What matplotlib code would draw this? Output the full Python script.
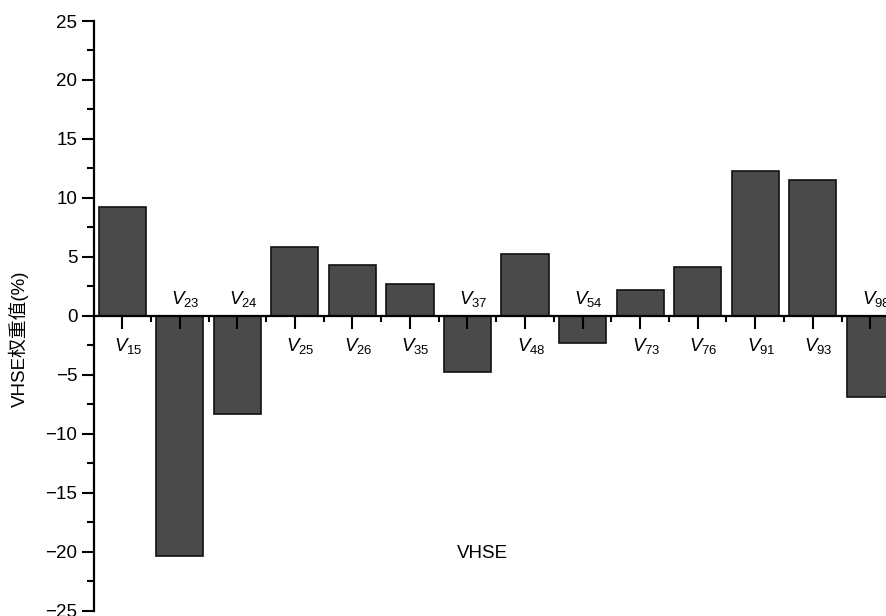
import matplotlib
matplotlib.use("Agg")
import matplotlib.pyplot as plt
from matplotlib.ticker import FixedLocator, MultipleLocator

plt.rcParams['font.family'] = ['Liberation Sans', 'Noto Sans CJK SC', 'DejaVu Sans']
plt.rcParams['mathtext.fontset'] = 'custom'
plt.rcParams['mathtext.rm'] = 'Liberation Sans'
plt.rcParams['mathtext.it'] = 'Liberation Sans:italic'

# VHSE descriptor weights (%)
descriptors = ['15', '23', '24', '25', '26', '35', '37', '48', '54', '73', '76', '91', '93', '98']
weights = [9.2, -20.4, -8.3, 5.8, 4.3, 2.7, -4.8, 5.2, -2.3, 2.2, 4.1, 12.3, 11.5, -6.9]
y_ticks = [-25, -20, -15, -10, -5, 0, 5, 10, 15, 20, 25]

fig = plt.figure(figsize=(8.87, 6.16), dpi=100)
ax = fig.add_axes([94 / 887, 5.5 / 616, 1 - 94 / 887, 589.5 / 616])

x = list(range(len(weights)))
ax.bar(x, weights, width=0.82, color='#4a4a4a', edgecolor='#111111', linewidth=1.2, zorder=1)

ax.set_xlim(-0.49, 13.29)
ax.set_ylim(-25, 25)

# spines: left axis plus a zero baseline
for s in ('top', 'right'):
    ax.spines[s].set_visible(False)
ax.spines['bottom'].set_position(('data', 0))
ax.spines['left'].set_linewidth(1.6)
ax.spines['bottom'].set_linewidth(1.6)
ax.spines['left'].set_bounds(-25, 25)

ax.set_yticks(y_ticks)
ax.yaxis.set_minor_locator(MultipleLocator(2.5))
ax.tick_params(axis='y', which='major', direction='out', length=9, width=1.5, labelsize=13.5, pad=3)
ax.tick_params(axis='y', which='minor', direction='out', length=5, width=1.5)

ax.set_xticks(x)
ax.set_xticklabels([])
ax.xaxis.set_minor_locator(FixedLocator([i + 0.5 for i in x]))
ax.tick_params(axis='x', which='major', direction='out', length=9, width=1.5)
ax.tick_params(axis='x', which='minor', direction='out', length=4.5, width=1.5)

# descriptor names: below the baseline for positive bars, above it for negative ones
for xi, name, w in zip(x, descriptors, weights):
    label = r'$\mathit{V}_{' + name + '}$'
    if w >= 0:
        ax.text(xi + 0.1, -2.6, label, ha='center', va='center', fontsize=13.5)
    else:
        ax.text(xi + 0.1, 1.4, label, ha='center', va='center', fontsize=13.5)

ax.set_ylabel('VHSE权重值(%)', fontsize=13.5,
              family=['Liberation Sans', 'Noto Sans CJK SC'])
ax.yaxis.set_label_coords(-(94 - 29) / 793, (610.5 - 339) / 589.5)

ax.text((482 - 94) / 793, (610.5 - 553) / 589.5, 'VHSE', transform=ax.transAxes,
        ha='center', va='center', fontsize=13.5)

fig.savefig('out.png', dpi=100)
